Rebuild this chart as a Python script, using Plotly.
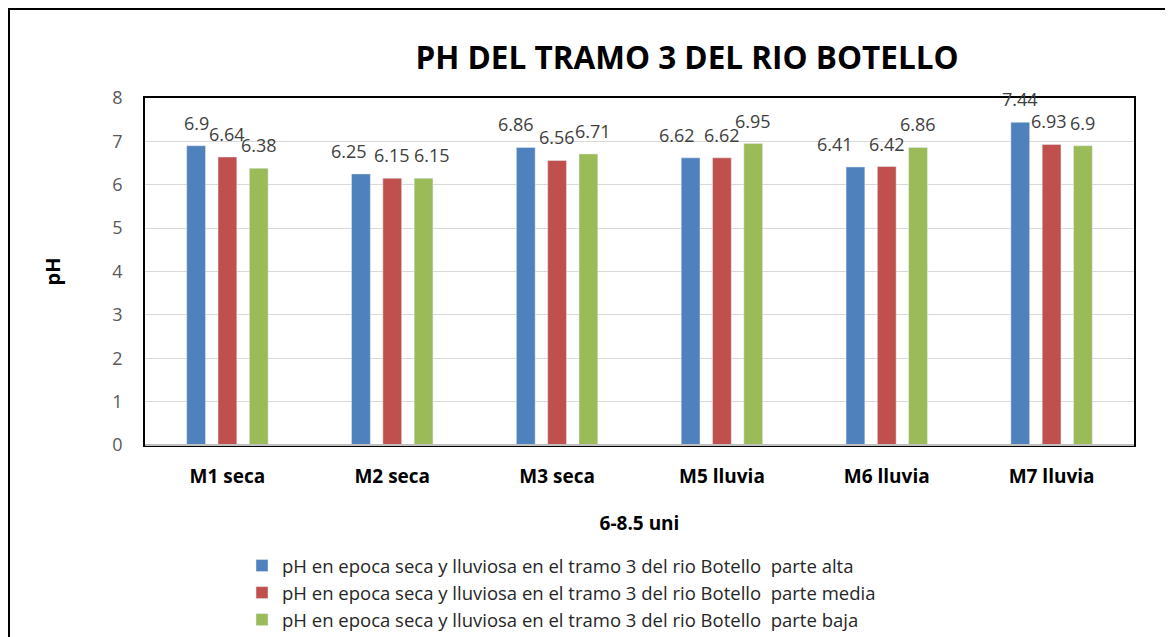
import plotly.graph_objects as go

categories = ["M1 seca", "M2 seca", "M3 seca", "M5 lluvia", "M6 lluvia", "M7 lluvia"]
alta = [6.9, 6.25, 6.86, 6.62, 6.41, 7.44]
media = [6.64, 6.15, 6.56, 6.62, 6.42, 6.93]
baja = [6.38, 6.15, 6.71, 6.95, 6.86, 6.9]
series_names = [
    "pH en epoca seca y lluviosa en el tramo 3 del rio Botello  parte alta",
    "pH en epoca seca y lluviosa en el tramo 3 del rio Botello  parte media",
    "pH en epoca seca y lluviosa en el tramo 3 del rio Botello  parte baja",
]
colors = ["#4F81BD", "#C0504D", "#9BBB59"]

# style: horizontal nudges (px) of a few data labels, as placed in the reference
label_nudge = {(0, 1): -12, (2, 1): 8, (0, 2): -10, (2, 2): 5,
               (0, 3): -14, (0, 4): -20, (1, 5): -3}

FONT = "'Open Sans', sans-serif"

OFF = 8  # page body margin
W, H = 1173 - OFF, 637 - OFF
L = 145 - OFF
T = 98 - OFF
R = W - (1134 - OFF)
B = H - (445 - OFF)
pw, ph = W - L - R, H - T - B

BARGAP, GROUPGAP = 0.43, 0.4
slot = pw / len(categories) * (1 - BARGAP) / 3  # px between bar centres in a group

fig = go.Figure()
all_series = [alta, media, baja]
for name, vals, c in zip(series_names, all_series, colors):
    fig.add_trace(go.Bar(x=categories, y=vals, name=name, marker_color=c))

# data labels, raised above the bars like the reference
for i, vals in enumerate(all_series):
    for j, (cat, v) in enumerate(zip(categories, vals)):
        fig.add_annotation(x=cat, y=v, text=f"{v:g}", showarrow=False,
                           xshift=(i - 1) * slot + label_nudge.get((i, j), 0),
                           yshift=23, yanchor="middle",
                           font=dict(size=18, color="#404040", family=FONT))


def px(x):
    return (x - 145) / pw


def py(y):
    return (445 - y) / ph


fig.update_layout(
    width=W, height=H,
    margin=dict(l=L, r=R, t=T, b=B, autoexpand=False),
    paper_bgcolor="white", plot_bgcolor="white",
    font=dict(family=FONT, color="#404040"),
    barmode="group", bargap=BARGAP, bargroupgap=GROUPGAP,
    title=dict(text="<b>PH DEL TRAMO 3 DEL RIO BOTELLO</b>", x=px(687), xref="paper",
               xanchor="center", y=1 - (58 - OFF) / H, yref="container", yanchor="middle",
               font=dict(size=31.5, color="black", family=FONT)),
    yaxis=dict(range=[0, 8], dtick=1, showgrid=True, gridcolor="#D9D9D9",
               tickfont=dict(size=18, color="#595959"), ticks="", ticklen=0,
               ticklabelstandoff=17, automargin=False,
               title=dict(text="<b>pH</b>", font=dict(size=20, color="black"), standoff=46),
               showline=True, linecolor="black", linewidth=1.5, mirror=True, zeroline=False),
    xaxis=dict(tickfont=dict(size=19, color="black"), automargin=False,
               ticklabelstandoff=13,
               ticktext=[f"<b>{c}</b>" for c in categories], tickvals=categories,
               title=dict(text="<b>6-8.5 uni</b>", font=dict(size=19, color="black"), standoff=29),
               showline=True, linecolor="black", linewidth=1.5, mirror=True),
    legend=dict(x=px(242), y=py(547), xanchor="left", yanchor="top",
                orientation="v", font=dict(size=18.5, color="#262626"),
                itemwidth=30, tracegroupgap=0),
    showlegend=True,
)

fig.add_shape(type="line", x0=0, x1=1, y0=0, y1=0, xref="paper", yref="paper",
              line=dict(color="#BFBFBF", width=2))
fig.add_shape(type="rect", xref="paper", yref="paper",
              x0=px(9), x1=px(1200), y0=py(700), y1=py(9),
              line=dict(color="black", width=2), fillcolor="rgba(0,0,0,0)")

fig.write_html("out.html")
